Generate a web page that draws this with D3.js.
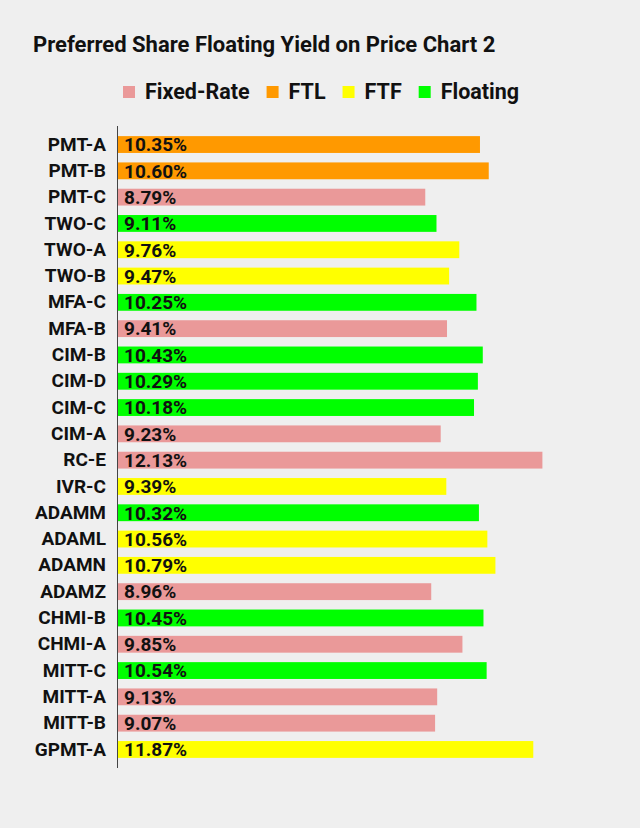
<!DOCTYPE html>
<html>
<head>
<meta charset="utf-8">
<script src="https://cdn.jsdelivr.net/npm/d3@7"></script>
<style>
  body { margin: 0; background: #efefef; }
  text { font-family: Roboto, "Noto Sans", sans-serif; }
</style>
</head>
<body>
<div class="module"></div>
<script>
const tickers = ["PMT-A","PMT-B","PMT-C","TWO-C","TWO-A","TWO-B","MFA-C","MFA-B","CIM-B","CIM-D","CIM-C","CIM-A","RC-E","IVR-C","ADAMM","ADAML","ADAMN","ADAMZ","CHMI-B","CHMI-A","MITT-C","MITT-A","MITT-B","GPMT-A"];
const yields = [10.35,10.60,8.79,9.11,9.76,9.47,10.25,9.41,10.43,10.29,10.18,9.23,12.13,9.39,10.32,10.56,10.79,8.96,10.45,9.85,10.54,9.13,9.07,11.87];
const types = ["FTL","FTL","Fixed-Rate","Floating","FTF","FTF","Floating","Fixed-Rate","Floating","Floating","Floating","Fixed-Rate","Fixed-Rate","FTF","Floating","FTF","FTF","Fixed-Rate","Floating","Fixed-Rate","Floating","Fixed-Rate","Fixed-Rate","FTF"];
const legendKeys = ["Fixed-Rate","FTL","FTF","Floating"];
const legendColors = ["#ea9999","#ff9900","#ffff00","#00ff00"];

const data = tickers.map((t, i) => ({ ticker: t, value: yields[i], type: types[i] }));

const width = 640, height = 828;

const svg = d3.select(".module")
  .append("svg")
    .attr("width", width)
    .attr("height", height);

svg.append("rect")
  .attr("width", width)
  .attr("height", height)
  .attr("fill", "#efefef");

// title
svg.append("text")
  .attr("x", 33)
  .attr("y", 52)
  .attr("font-size", 22)
  .attr("font-weight", "bold")
  .attr("fill", "#111")
  .text("Preferred Share Floating Yield on Price Chart 2");

const color = d3.scaleOrdinal()
  .domain(legendKeys)
  .range(legendColors);

// legend
const legend = svg.append("g");
let lx = 123;
legendKeys.forEach(k => {
  const g = legend.append("g").attr("transform", `translate(${lx},0)`);
  g.append("rect")
    .attr("x", 0).attr("y", 86)
    .attr("width", 12).attr("height", 12)
    .attr("fill", color(k));
  const t = g.append("text")
    .attr("x", 22).attr("y", 99)
    .attr("font-size", 21.5)
    .attr("font-weight", "bold")
    .attr("fill", "#111")
    .text(k);
  lx += 22 + t.node().getComputedTextLength() + 17;
});

// scales
const x = d3.scaleLinear()
  .domain([0, 14])
  .range([117, 117 + 14 * 35.07]);

const y = d3.scaleBand()
  .domain(tickers)
  .range([126, 768])
  .paddingInner(0.36)
  .paddingOuter(0.385);

// bars
svg.selectAll("rect.bar")
  .data(data)
  .enter()
  .append("rect")
    .attr("class", "bar")
    .attr("x", x(0))
    .attr("y", d => y(d.ticker))
    .attr("width", d => x(d.value) - x(0))
    .attr("height", y.bandwidth())
    .attr("fill", d => color(d.type));

// value labels
svg.selectAll("text.val")
  .data(data)
  .enter()
  .append("text")
    .attr("class", "val")
    .attr("x", x(0) + 7)
    .attr("y", d => y(d.ticker) + y.bandwidth() / 2)
    .attr("dy", "0.36em")
    .attr("font-size", 19)
    .attr("font-weight", "bold")
    .attr("fill", "#111")
    .text(d => d.value.toFixed(2) + "%");

// y axis
const yAxis = svg.append("g")
  .attr("transform", `translate(${x(0)},0)`)
  .call(d3.axisLeft(y).tickSize(0).tickPadding(11));

yAxis.select(".domain")
  .attr("stroke", "#444")
  .attr("d", "M0.5,126V768");

yAxis.selectAll("text")
  .attr("font-size", 19)
  .attr("font-weight", "bold")
  .attr("fill", "#111")
  .style("font-family", "Roboto, sans-serif");
</script>
</body>
</html>
